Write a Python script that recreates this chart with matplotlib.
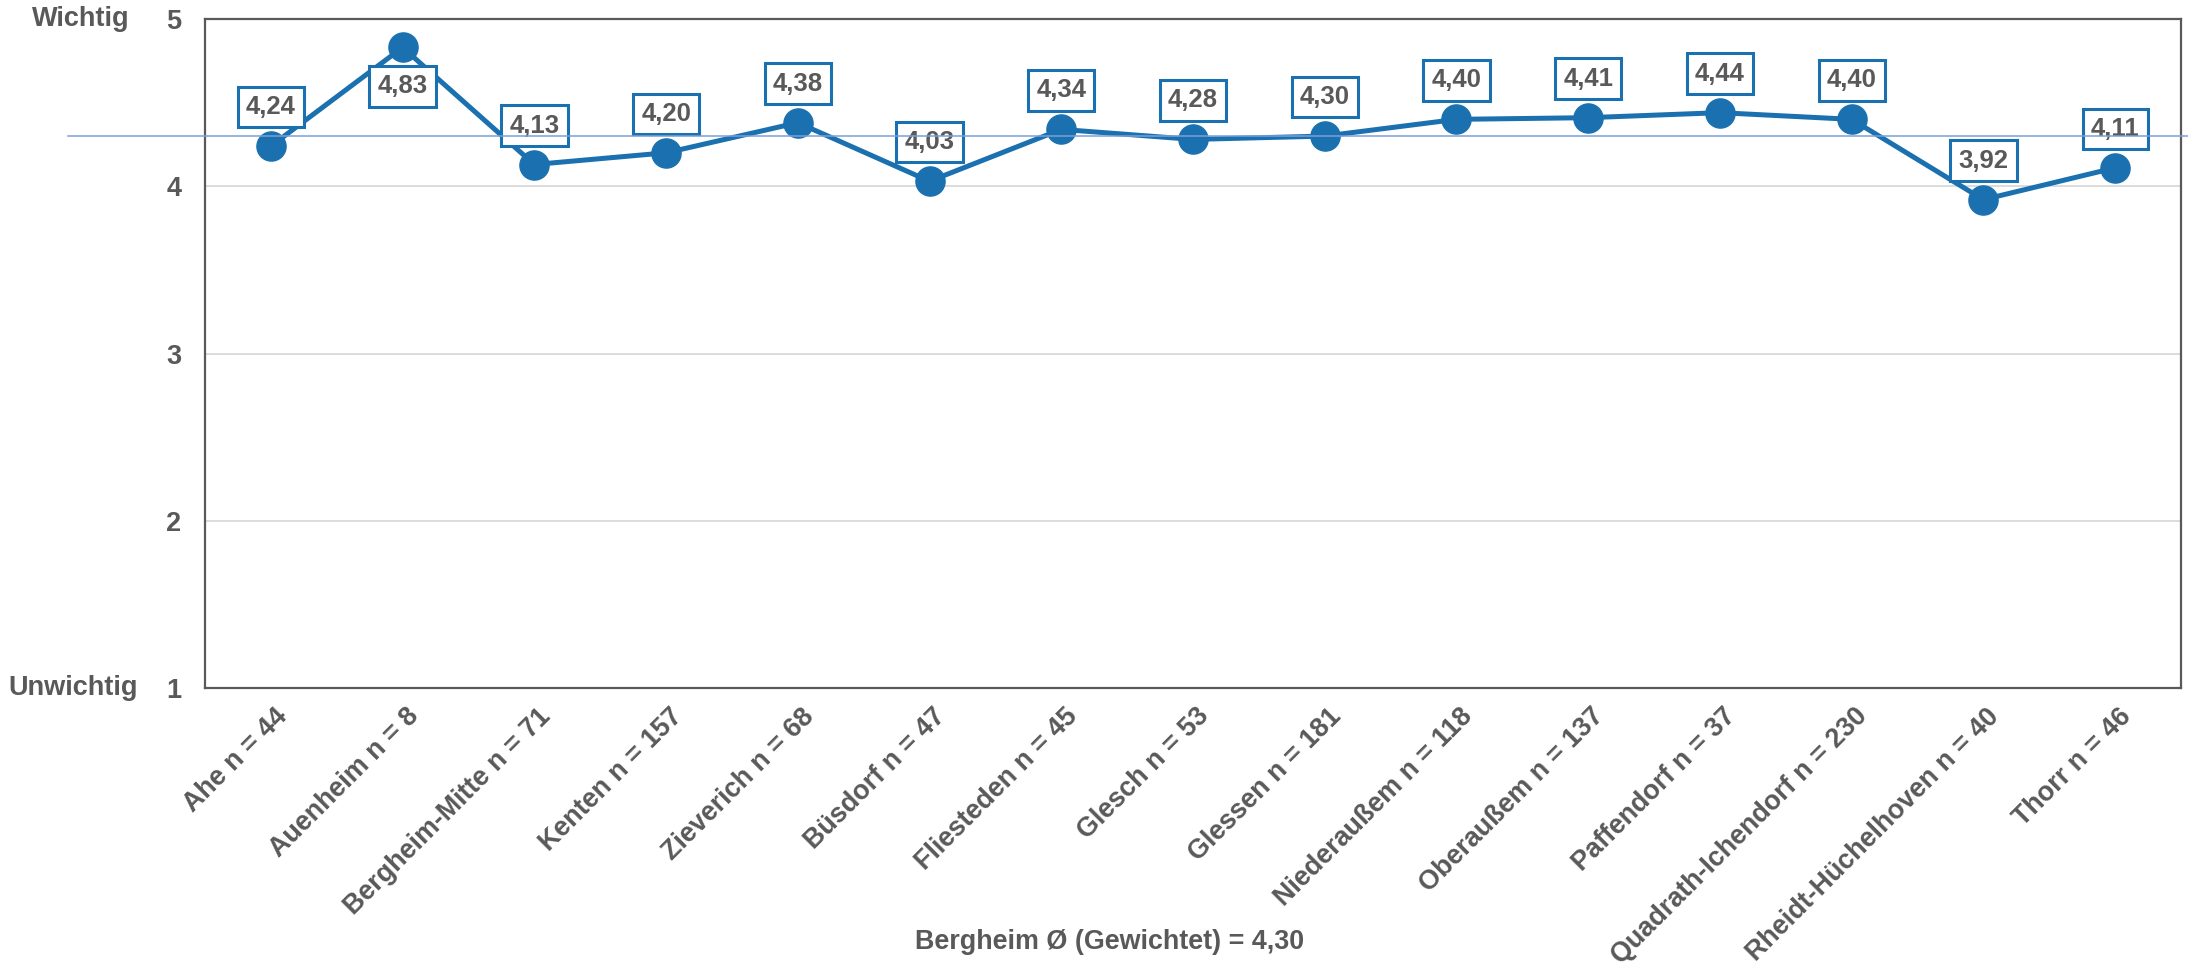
import matplotlib
matplotlib.use("Agg")
import matplotlib.pyplot as plt
from matplotlib.transforms import blended_transform_factory, ScaledTranslation

plt.rcParams['font.family'] = ['Liberation Sans', 'DejaVu Sans']

categories = ["Ahe n = 44", "Auenheim n = 8", "Bergheim-Mitte n = 71", "Kenten n = 157",
              "Zieverich n = 68", "Büsdorf n = 47", "Fliesteden n = 45", "Glesch n = 53",
              "Glessen n = 181", "Niederaußem n = 118", "Oberaußem n = 137", "Paffendorf n = 37",
              "Quadrath-Ichendorf n = 230", "Rheidt-Hüchelhoven n = 40", "Thorr n = 46"]
values = [4.24, 4.83, 4.13, 4.20, 4.38, 4.03, 4.34, 4.28, 4.30, 4.40, 4.41, 4.44, 4.40, 3.92, 4.11]
label_below = [False, True, False, False, False, False, False, False, False, False, False, False, False, False, False]
mean_value = 4.30
caption = "Bergheim Ø (Gewichtet) = 4,30"
y_ticks = [1, 2, 3, 4, 5]

W, H, DPI = 2188, 966, 100
TXT = '#595959'
BLUE = '#1B71B0'
MEAN = '#7A9FD8'
FS = 18.5

fig = plt.figure(figsize=(W / DPI, H / DPI), dpi=DPI)
ax = fig.add_axes([205 / W, 1 - 688 / H, (2181 - 205) / W, (688 - 19) / H])

x = list(range(len(categories)))
ax.plot(x, values, color=BLUE, lw=3.6, marker='o', markersize=21, zorder=5)

ax.set_xlim(-0.5, len(categories) - 0.5)
ax.set_ylim(1, 5)
ax.set_yticks(y_ticks)
ax.set_yticklabels([str(t) for t in y_ticks], fontsize=19.5, fontweight='bold', color=TXT)
ax.tick_params(axis='y', length=0, pad=17)
ax.tick_params(axis='x', length=0, pad=11)
ax.set_xticks(x)
ax.set_xticklabels(categories, rotation=45, ha='right', va='top', rotation_mode='anchor',
                   fontsize=19.4, fontweight='bold', color=TXT)
off = ScaledTranslation(3 / DPI, 0, fig.dpi_scale_trans)
for lab in ax.get_xticklabels():
    lab.set_transform(lab.get_transform() + off)

for yv in [2, 3, 4]:
    ax.axhline(yv, color='#D9D9D9', lw=1.3, zorder=1)
for s in ax.spines.values():
    s.set_color('#595959')
    s.set_linewidth(1.6)

# value labels
for xi, v, below in zip(x, values, label_below):
    dy = -39 if below else 39
    ax.annotate(f"{v:.2f}".replace('.', ','), (xi, v), xytext=(0, dy * 72 / DPI),
                textcoords='offset points', ha='center', va='center',
                fontsize=FS, fontweight='bold', color=TXT, zorder=6,
                bbox=dict(boxstyle='square,pad=0.32', fc='white', ec=BLUE, lw=2.2))

# mean line
tr = blended_transform_factory(fig.transFigure, ax.transData)
ax.plot([68 / W, 1.0], [mean_value, mean_value], transform=tr, color=MEAN, lw=1.1,
        clip_on=False, zorder=7)

# side labels
fig.text(32 / W, 5, "Wichtig", transform=tr, ha='left', va='center',
         fontsize=19.5, fontweight='bold', color=TXT)
fig.text(8 / W, 1, "Unwichtig", transform=tr, ha='left', va='center',
         fontsize=19.5, fontweight='bold', color=TXT)

fig.text(1110 / W, 1 - 942 / H, caption, ha='center', va='center',
         fontsize=19.4, fontweight='bold', color=TXT)

fig.savefig("out.png", dpi=DPI)
